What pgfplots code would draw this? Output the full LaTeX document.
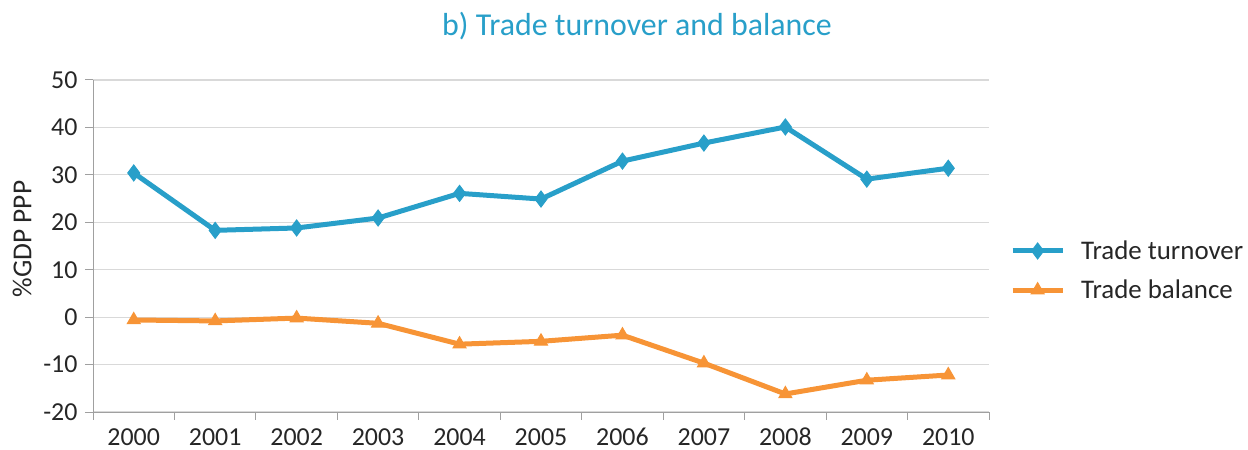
\documentclass[border=0pt]{standalone}
\usepackage{pgfplots}
\pgfplotsset{compat=1.18}
\usepackage{fontspec}
\setmainfont{Carlito}
\definecolor{tblue}{RGB}{40,159,201}
\definecolor{torange}{RGB}{247,148,54}
\definecolor{txt}{RGB}{38,38,38}
\definecolor{gridc}{RGB}{217,217,217}
\definecolor{axc}{RGB}{160,160,160}

\pgfplotstableread{
x turnover balance
0 30.4 -0.6
1 18.3 -0.8
2 18.8 -0.2
3 20.9 -1.3
4 26.1 -5.7
5 24.9 -5.1
6 32.9 -3.8
7 36.7 -9.7
8 40.1 -16.2
9 29.1 -13.3
10 31.4 -12.2
}\tradedata

\begin{document}
\begin{tikzpicture}
\useasboundingbox (0,0) rectangle (1248bp,450bp);
\begin{axis}[
  at={(93bp,38bp)}, anchor=south west,
  scale only axis, width=896bp, height=332bp,
  xmin=-0.5, xmax=10.5, ymin=-20, ymax=50,
  ytick={-20,-10,...,50},
  xtick={0,...,10},
  xticklabels={2000,2001,2002,2003,2004,2005,2006,2007,2008,2009,2010},
  minor xtick={-0.5,0.5,...,10.5},
  axis x line*=bottom, axis y line*=left,
  axis line style={draw=axc, line width=1bp},
  ymajorgrids, grid style={draw=gridc, line width=1.2bp},
  tick align=outside,
  major tick length=8bp, minor tick length=8bp,
  major x tick style={draw=none},
  minor x tick style={draw=axc, line width=1bp},
  major y tick style={draw=axc, line width=1bp},
  /pgf/number format/assume math mode=true,
  ticklabel style={font=\fontsize{26}{31}\selectfont, text=txt},
  x tick label style={inner ysep=0pt, yshift=-8bp},
  y tick label style={xshift=-4bp},
  ylabel={\%GDP PPP},
  ylabel style={at={(axis description cs:-0.079,0.521)}, anchor=center, font=\fontsize{27.5}{33}\selectfont, text=txt},
  legend style={draw=none, fill=none, at={(axis description cs:1.020,0.426)}, anchor=west,
    font=\fontsize{27}{32}\selectfont, text=txt, row sep=15bp,
    nodes={inner xsep=10bp}},
  legend cell align=left,
  legend image code/.code={\draw[mark repeat=2,mark phase=2,#1] plot coordinates {(0bp,0bp)(25bp,0bp)(50bp,0bp)}; \path (56bp,0bp);},
]
\addplot[tblue, line width=5bp, mark=diamond*, mark size=8bp, mark options={solid, line width=1bp, fill=tblue}]
  table[x=x, y=turnover] {\tradedata};
\addlegendentry{Trade turnover}
\addplot[torange, line width=5bp, mark=triangle*, mark size=7.5bp, mark options={solid, line width=1bp, fill=torange}]
  table[x=x, y=balance] {\tradedata};
\addlegendentry{Trade balance}
\end{axis}
\node[text=tblue, font=\fontsize{32}{38}\selectfont] at (637bp,424bp) {b) Trade turnover and balance};
\end{tikzpicture}
\end{document}
